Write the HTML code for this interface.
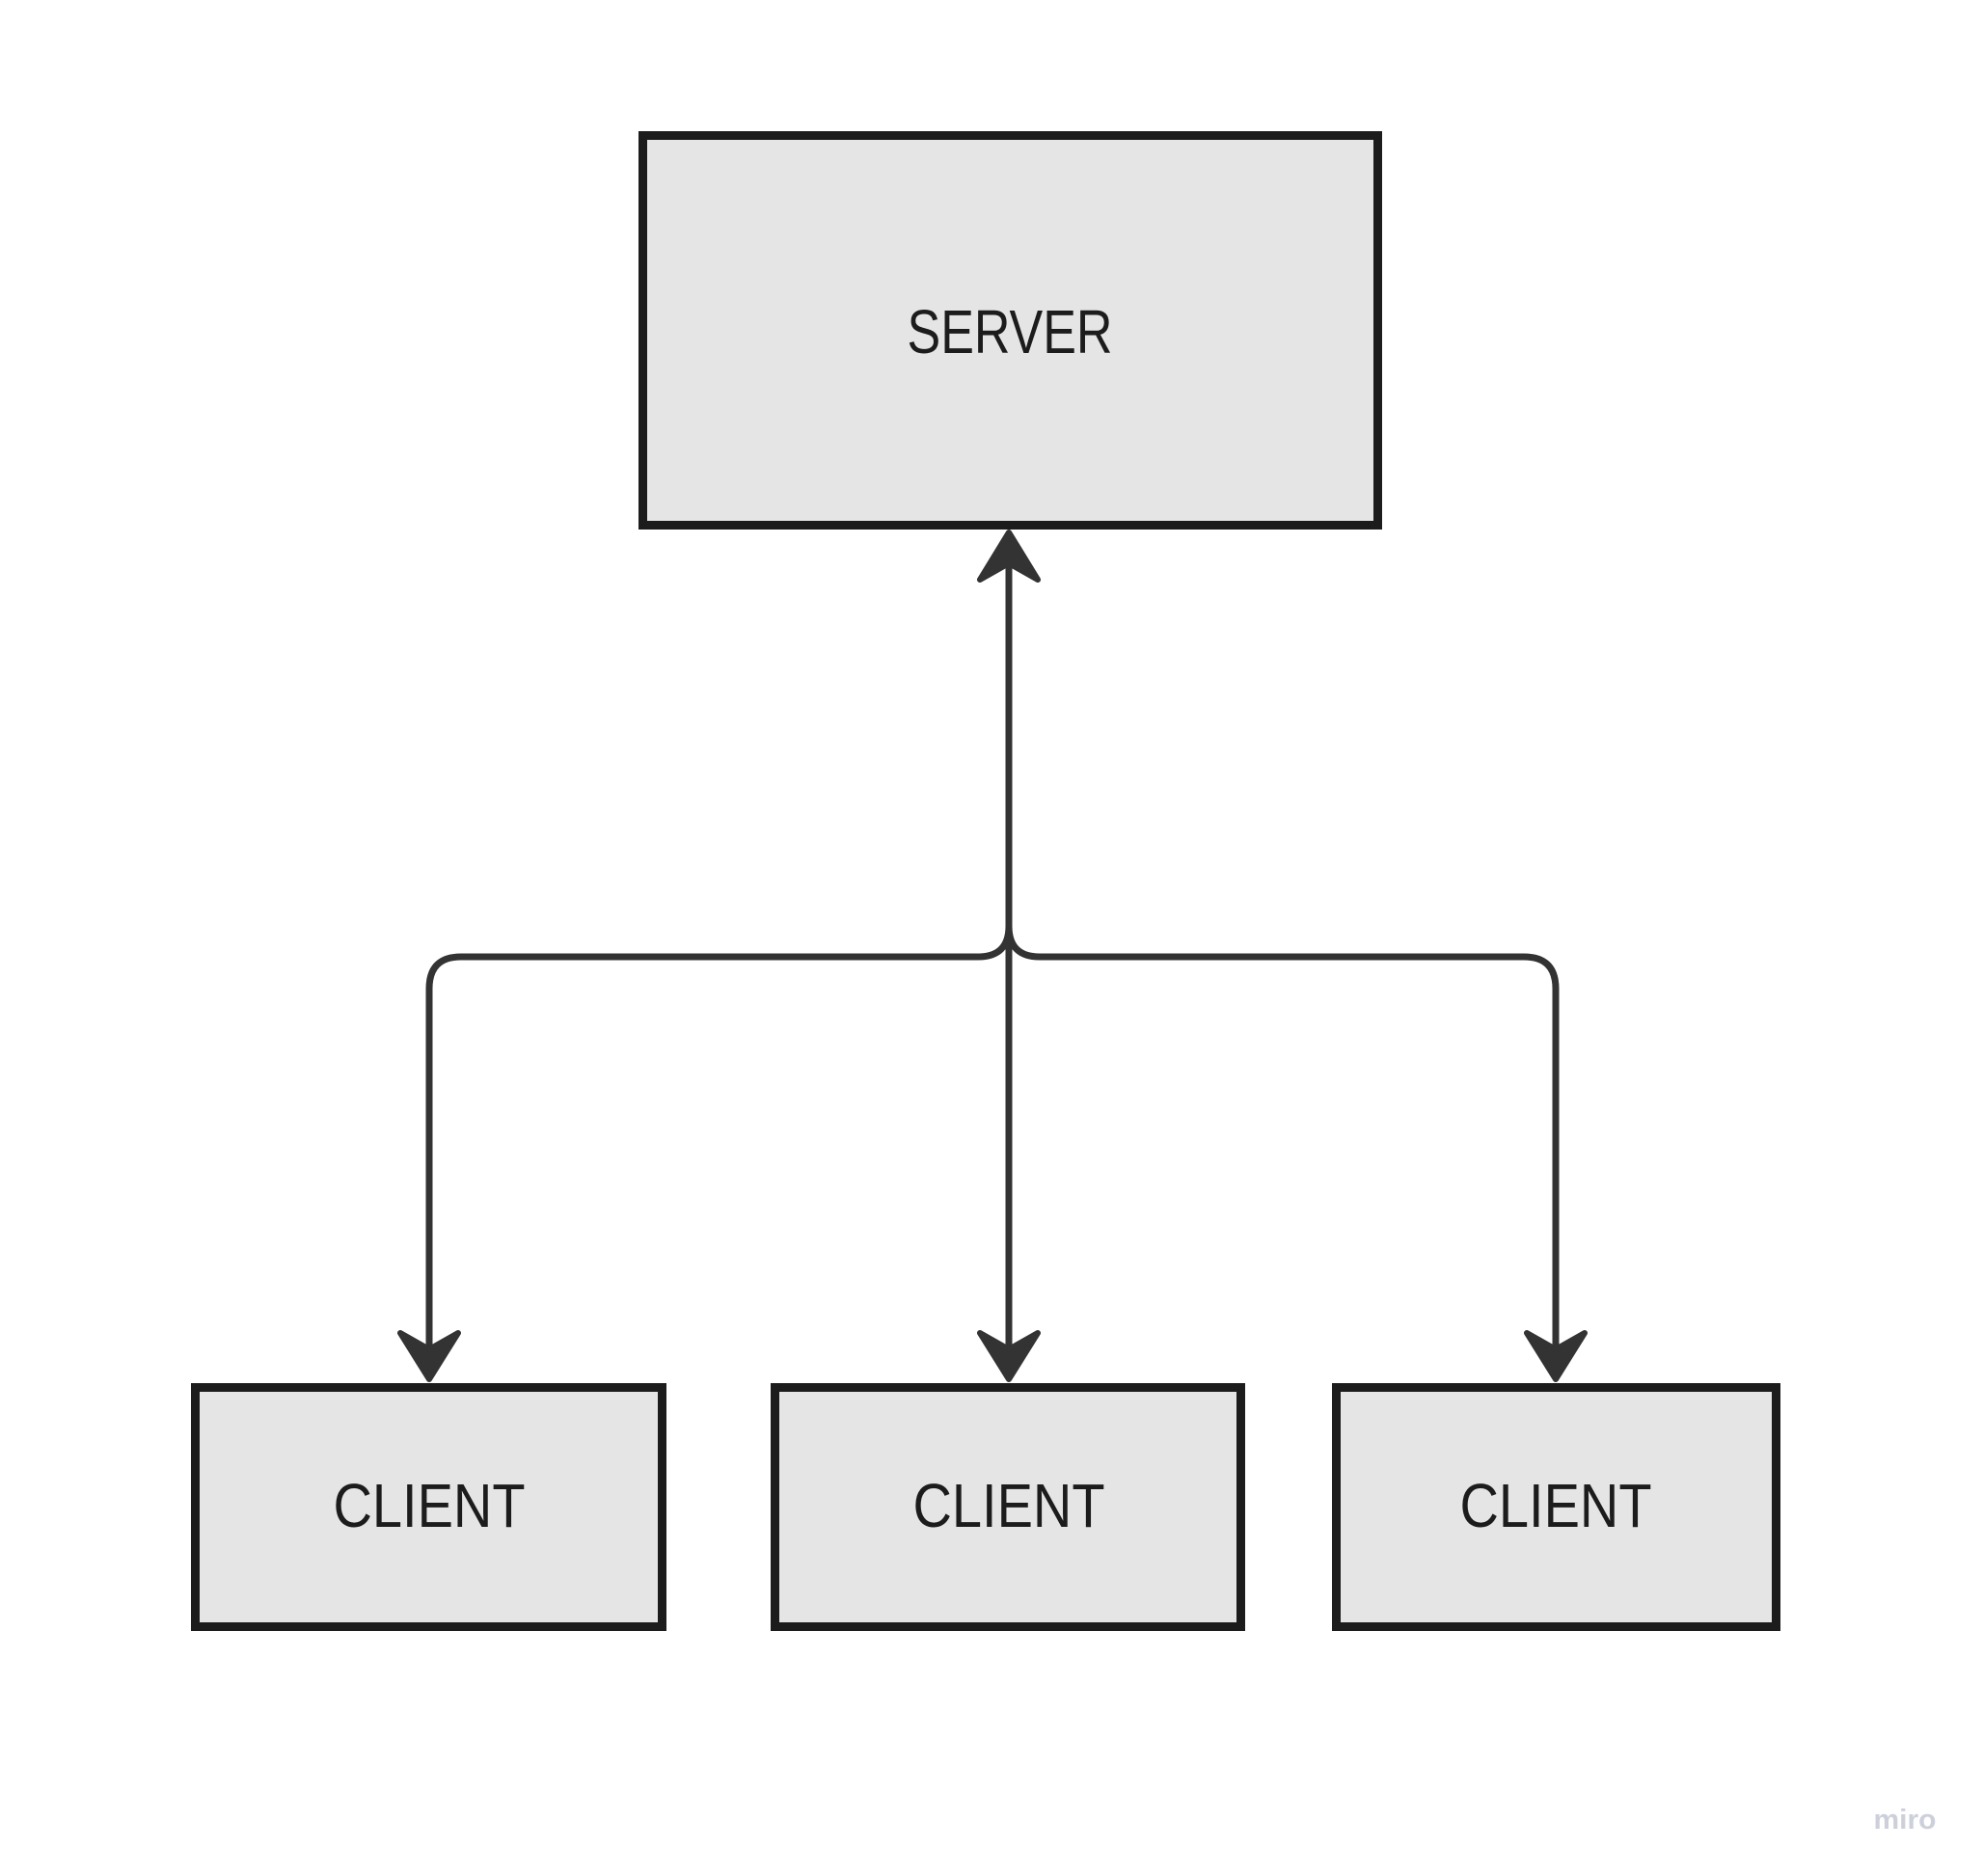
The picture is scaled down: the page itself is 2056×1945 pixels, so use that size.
<!DOCTYPE html>
<html><head><meta charset="utf-8"><style>
html,body{margin:0;padding:0;background:#fff;}
svg{display:block;}
</style></head><body>
<svg width="2056" height="1945" viewBox="0 0 2056 1945" xmlns="http://www.w3.org/2000/svg">
<rect width="2056" height="1945" fill="#fff"/>
<rect x="666.5" y="140.5" width="762" height="404" fill="#e5e5e5" stroke="#1c1c1c" stroke-width="9"/>
<text x="1047" y="366" font-family="Liberation Sans, sans-serif" font-size="64" fill="#1c1c1c" text-anchor="middle" textLength="213" lengthAdjust="spacingAndGlyphs">SERVER</text>
<rect x="202.5" y="1438.5" width="484" height="248" fill="#e5e5e5" stroke="#1c1c1c" stroke-width="9"/>
<text x="445" y="1583" font-family="Liberation Sans, sans-serif" font-size="64" fill="#1c1c1c" text-anchor="middle" textLength="199" lengthAdjust="spacingAndGlyphs">CLIENT</text>
<rect x="803.5" y="1438.5" width="483" height="248" fill="#e5e5e5" stroke="#1c1c1c" stroke-width="9"/>
<text x="1046" y="1583" font-family="Liberation Sans, sans-serif" font-size="64" fill="#1c1c1c" text-anchor="middle" textLength="199" lengthAdjust="spacingAndGlyphs">CLIENT</text>
<rect x="1385.5" y="1438.5" width="456" height="248" fill="#e5e5e5" stroke="#1c1c1c" stroke-width="9"/>
<text x="1613" y="1583" font-family="Liberation Sans, sans-serif" font-size="64" fill="#1c1c1c" text-anchor="middle" textLength="199" lengthAdjust="spacingAndGlyphs">CLIENT</text>
<g fill="none" stroke="#333" stroke-width="7">
<path d="M1046 580 V960 Q1046 992 1014 992 H478 Q445 992 445 1025 V1400"/>
<path d="M1046 960 Q1046 992 1078 992 H1580 Q1613 992 1613 1025 V1400"/>
<path d="M1046 960 V1400"/>
</g>
<g fill="#333" stroke="#333" stroke-width="6" stroke-linejoin="round">
<path d="M1046 552 L1076 601 L1046 584 L1016 601 Z"/>
<path d="M445 1430 L475 1382 L445 1399 L415 1382 Z"/>
<path d="M1046 1430 L1076 1382 L1046 1399 L1016 1382 Z"/>
<path d="M1613 1430 L1643 1382 L1613 1399 L1583 1382 Z"/>
</g>
<text x="1975" y="1896" font-family="Liberation Sans, sans-serif" font-size="29" font-weight="bold" fill="#cdcfdb" text-anchor="middle" textLength="65" lengthAdjust="spacingAndGlyphs">miro</text>
</svg>
</body></html>
